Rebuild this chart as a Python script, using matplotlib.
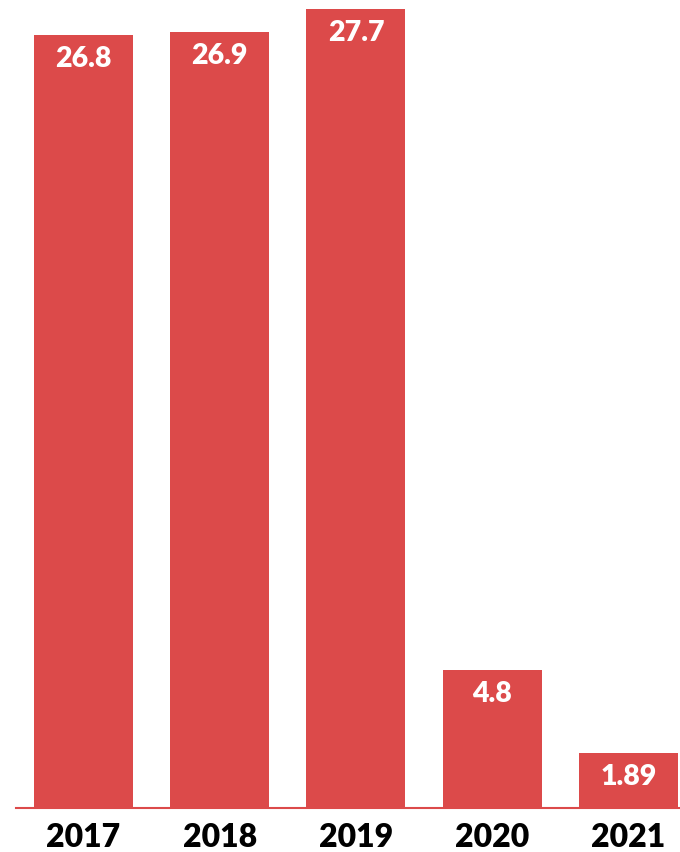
from matplotlib import pyplot as plt

years = ['2017', '2018', '2019', '2020', '2021']
values = [26.8, 26.9, 27.7, 4.8, 1.89]
labels = ['26.8', '26.9', '27.7', '4.8', '1.89']

red = '#dc4a4a'

fig = plt.figure(figsize=(6.8, 8.52), dpi=100)
ax = fig.add_axes([0, 44 / 852, 1, 808 / 852])

x = list(range(len(years)))
ax.bar(x, values, width=0.727, color=red, zorder=2)

for xi, v, lab in zip(x, values, labels):
    ax.annotate(lab, (xi, v), xytext=(0, -11), textcoords='offset pixels',
                ha='center', va='top', color='white', fontsize=20.5,
                fontweight='heavy', family='Lato')

ax.set_xlim(-0.612, 4.378)
ax.set_ylim(0, 28.02)

for s in ['top', 'right', 'left']:
    ax.spines[s].set_visible(False)
ax.spines['bottom'].set_color(red)
ax.spines['bottom'].set_linewidth(1.5)
ax.spines['bottom'].set_bounds(-0.495, 4.378)

ax.set_yticks([])
ax.set_xticks(x)
ax.set_xticklabels(years, fontsize=23, fontweight='heavy', family='Lato')
ax.tick_params(axis='x', length=0, pad=11)

fig.savefig('out.png', dpi=100)
